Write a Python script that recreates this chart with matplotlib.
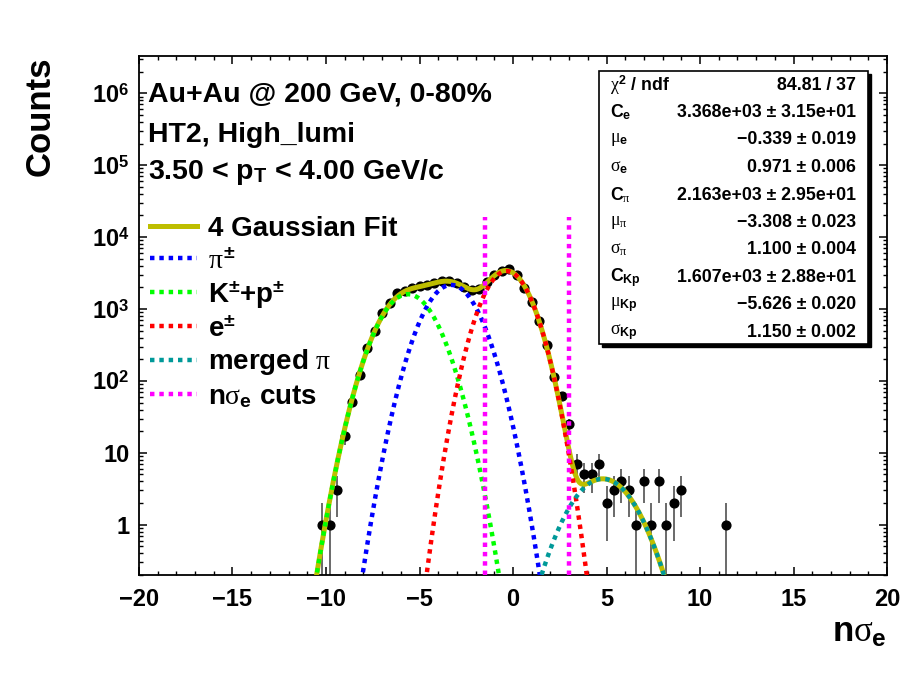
import numpy as np
import matplotlib
matplotlib.use("Agg")
import matplotlib.pyplot as plt
from matplotlib.patches import Rectangle
from matplotlib.ticker import MultipleLocator, LogLocator, NullFormatter

plt.rcParams['font.family'] = 'Liberation Sans'
plt.rcParams['font.weight'] = 'bold'
plt.rcParams['axes.labelweight'] = 'bold'
plt.rcParams['mathtext.fontset'] = 'custom'
plt.rcParams['mathtext.rm'] = 'Liberation Sans:bold'
plt.rcParams['mathtext.bf'] = 'Liberation Sans:bold'
plt.rcParams['mathtext.sf'] = 'Liberation Sans:bold'
plt.rcParams['mathtext.it'] = 'Liberation Serif:style=normal:weight=normal'

# histogramowane dane (srodki binow 0.4)
bin_centers = [-10.2, -9.8, -9.4, -9.0, -8.6, -8.2, -7.8, -7.4, -7.0, -6.6,
               -6.2, -5.8, -5.4, -5.0, -4.6, -4.2, -3.8, -3.4, -3.0, -2.6,
               -2.2, -1.8, -1.4, -1.0, -0.6, -0.2, 0.2, 0.6, 1.0, 1.4,
               1.8, 2.2, 2.6, 3.0, 3.4, 3.8, 4.2, 4.6, 5.0, 5.4,
               5.8, 6.2, 6.6, 7.0, 7.4, 7.8, 8.2, 8.6, 9.0, 11.4]
counts = [1, 1, 3, 17, 51, 121, 285, 500, 871, 1224,
          1652, 1800, 1950, 2060, 2150, 2290, 2420, 2470, 2330, 2010,
          1850, 1920, 2380, 2970, 3400, 3590, 2970, 1940, 1240, 690,
          316, 115, 61, 25, 7, 5, 5, 7, 2, 3,
          4, 3, 1, 4, 1, 4, 1, 2, 3, 1]

# parametry dopasowania (e, pi, K+p, merged pi)
fit_amp = [3368.0, 2163.0, 1607.0, 4.35]
fit_mean = [-0.339, -3.308, -5.626, 4.8]
fit_sigma = [0.971, 1.100, 1.150, 1.32]
cut_positions = [-1.5, 3.0]
cut_top = 1.9e4

stat_labels = [r'$\chi^{2}$ / ndf', r'C$_{\mathrm{e}}$', r'$\mu_{\mathrm{e}}$', r'$\sigma_{\mathrm{e}}$',
               r'C$_{\pi}$', r'$\mu_{\pi}$', r'$\sigma_{\pi}$',
               r'C$_{\mathrm{Kp}}$', r'$\mu_{\mathrm{Kp}}$', r'$\sigma_{\mathrm{Kp}}$']
stat_values = ['84.81 / 37', '3.368e+03 ± 3.15e+01', '\u22120.339 ± 0.019', '0.971 ± 0.006',
               '2.163e+03 ± 2.95e+01', '\u22123.308 ± 0.023', '1.100 ± 0.004',
               '1.607e+03 ± 2.88e+01', '\u22125.626 ± 0.020', '1.150 ± 0.002']

y_ticks = [1, 10, 1e2, 1e3, 1e4, 1e5, 1e6]
y_tick_labels = ['1', '10', '$10^{2}$', '$10^{3}$', '$10^{4}$', '$10^{5}$', '$10^{6}$']

W, H = 909, 673


def fx(px):
    return px / W


def fy(py):
    return 1 - py / H


def gaus(x, c, mu, s):
    return c * np.exp(-0.5 * ((x - mu) / s) ** 2)


fig = plt.figure(figsize=(W / 100, H / 100), dpi=100)
ax = fig.add_axes([fx(139), fy(575), (887 - 139) / W, (575 - 56) / H])
ax.set_yscale('log')
ax.set_xlim(-20, 20)
ax.set_ylim(0.2, 3.3e6)

# punkty z bledami sqrt(N)
n = np.array(counts, dtype=float)
ax.errorbar(bin_centers, n, yerr=np.sqrt(n), fmt='o', color='black', ms=6.3,
            ecolor='#505050', elinewidth=1.2, capsize=0, zorder=2)

xs = np.linspace(-20, 20, 4001)
comp = [gaus(xs, fit_amp[i], fit_mean[i], fit_sigma[i]) for i in range(4)]
total = comp[0] + comp[1] + comp[2] + comp[3]

dot = (0, (1, 1.1))
lw_dot = 3.2
l_fit, = ax.plot(xs, total, color='#bebe00', lw=3.6, zorder=3, label='4 Gaussian Fit')
l_pi, = ax.plot(xs, comp[1], color='#0000ff', lw=lw_dot, ls=dot, zorder=4, label=r'$\pi^{\pm}$')
l_k, = ax.plot(xs, comp[2], color='#00ff00', lw=lw_dot, ls=dot, zorder=4, label=r'K$^{\pm}$+p$^{\pm}$')
l_e, = ax.plot(xs, comp[0], color='#ff0000', lw=lw_dot, ls=dot, zorder=4, label=r'e$^{\pm}$')
l_m, = ax.plot(xs, comp[3], color='#009999', lw=lw_dot, ls=dot, zorder=4, label=r'merged $\pi$')
cut_lines = []
for c in cut_positions:
    l_c, = ax.plot([c, c], [0.2, cut_top], color='#ff00ff', lw=lw_dot, ls=dot, zorder=5,
                   label=r'n$\sigma_{\mathrm{e}}$ cuts')
    cut_lines.append(l_c)

# osie w stylu ROOT
ax.xaxis.set_major_locator(MultipleLocator(5))
ax.xaxis.set_minor_locator(MultipleLocator(1))
ax.set_yticks(y_ticks, y_tick_labels)
ax.yaxis.set_minor_locator(LogLocator(subs=np.arange(2, 10)))
ax.yaxis.set_minor_formatter(NullFormatter())
ax.tick_params(which='both', direction='in', top=True, right=True, labelsize=17)
ax.tick_params(which='major', length=6, width=1.1)
ax.tick_params(which='minor', length=3, width=1.0)
ax.tick_params(axis='x', pad=9)
ax.tick_params(axis='y', pad=7)
for s in ax.spines.values():
    s.set_linewidth(1.3)

ax.set_ylabel('Counts', fontsize=25, loc='top')
ax.yaxis.set_label_coords((57 - 139) / 748, 1.0)
ax.set_xlabel(r'n$\sigma_{\mathrm{e}}$', fontsize=25, loc='right')
ax.xaxis.set_label_coords(1.0, -(616 - 575) / 519)

# opisy
fig.text(fx(148), fy(102), 'Au+Au @ 200 GeV, 0-80%', fontsize=20.5, va='baseline')
fig.text(fx(148), fy(142), 'HT2, High_lumi', fontsize=20.5, va='baseline')
fig.text(fx(148), fy(179), r'3.50 < p$_{\mathrm{T}}$ < 4.00 GeV/c', fontsize=20.5, va='baseline')

ax.legend(handles=[l_fit, l_pi, l_k, l_e, l_m, cut_lines[0]], loc='upper left',
          bbox_to_anchor=(fx(150), fy(216)), bbox_transform=fig.transFigure,
          frameon=False, fontsize=20, handlelength=1.7, handletextpad=0.4,
          labelspacing=0.2, borderpad=0, borderaxespad=0)

# ramka statystyk z cieniem
bx0, bx1, by0, by1 = 599, 868, 71, 344
fig.patches.append(Rectangle((fx(bx0 + 3), fy(by1 + 3)), (bx1 - bx0) / W, (by1 - by0) / H,
                             transform=fig.transFigure, facecolor='black', edgecolor='black', zorder=10))
fig.patches.append(Rectangle((fx(bx0), fy(by1)), (bx1 - bx0) / W, (by1 - by0) / H,
                             transform=fig.transFigure, facecolor='white', edgecolor='black',
                             lw=1.2, zorder=11))
for i in range(len(stat_labels)):
    yy = fy(85 + 27.5 * i)
    fig.text(fx(610), yy, stat_labels[i], fontsize=12.8, va='center', ha='left', zorder=12)
    fig.text(fx(856), yy, stat_values[i], fontsize=12.8, va='center', ha='right', zorder=12)

fig.savefig('out.png', dpi=100)
